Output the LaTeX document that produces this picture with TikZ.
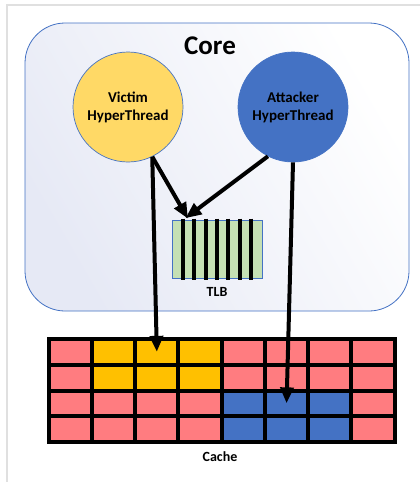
\documentclass[tikz,border=0pt]{standalone}
\usepackage{fontspec}
\setmainfont{Carlito}
\usetikzlibrary{arrows.meta}
\definecolor{frame}{HTML}{E0E0E0}
\definecolor{bord}{HTML}{4472C4}
\definecolor{coreA}{HTML}{E6E9F5}
\definecolor{vict}{HTML}{FFD966}
\definecolor{att}{HTML}{4472C4}
\definecolor{tlbg}{HTML}{C5E0B4}
\definecolor{pinkc}{HTML}{FF7C80}
\definecolor{yelc}{HTML}{FFC000}
\definecolor{bluec}{HTML}{4472C4}
\tikzset{
  thread/.style={circle, draw=bord, line width=0.7pt, minimum size=110pt, inner sep=0pt,
    align=center, font=\fontsize{15}{18}\selectfont\bfseries},
  lbl/.style={font=\fontsize{14}{16}\selectfont\bfseries},
  cell/.style={draw=black, line width=4pt, minimum width=43.25pt, minimum height=25.75pt,
    inner sep=0pt, anchor=north west},
  bar/.style={line width=4pt, black},
  arr/.style={line width=4pt, -{Triangle[length=16pt,width=13pt]}, shorten >=-2pt}
}
\begin{document}
\begin{tikzpicture}[x=1pt,y=-1pt]
\useasboundingbox (0,0) rectangle (420,482);
\fill[white] (0,0) rectangle (420,482);
\draw[frame, line width=2pt] (420,5) -- (7,5) -- (7,482);
% core
\shade[left color=coreA, right color=white, shading angle=120, rounded corners=40pt]
  (25,23) rectangle (409,311);
\draw[bord, line width=0.8pt, rounded corners=40pt] (25,23) rectangle (409,311);
\node[font=\fontsize{27}{30}\selectfont\bfseries] (core) at (210,46) {Core};
% threads
\node[thread, fill=vict] (victim) at (128,107) {Victim\\HyperThread};
\node[thread, fill=att] (attacker) at (293,107) {Attacker\\HyperThread};
% TLB
\node[draw=bord, line width=0.7pt, fill=tlbg, minimum width=90pt, minimum height=58pt,
  inner sep=0pt, anchor=north west] (tlb) at (172,220) {};
\foreach \i in {0,...,6} {
  \draw[bar] (182.7+\i*11.43,218.5) -- (182.7+\i*11.43,279.5);
}
\node[lbl] (tlblabel) at (217,292) {TLB};
% cache
\foreach \r in {1,...,4} {
  \foreach \c in {1,...,8} {
    \pgfmathsetmacro{\cx}{46.7+(\c-1)*43.25}
    \pgfmathsetmacro{\cy}{337+(\r-1)*25.75}
    \def\col{pinkc}
    \ifnum\r<3 \ifnum\c>1 \ifnum\c<5 \def\col{yelc}\fi\fi\fi
    \ifnum\r>2 \ifnum\c>4 \ifnum\c<8 \def\col{bluec}\fi\fi\fi
    \node[cell, fill=\col] (c-\r-\c) at (\cx,\cy) {};
  }
}
\node[lbl] (cache) at (220,457) {Cache};
% arrows
\coordinate (tlbhit) at (187,217);
\draw[arr] (victim.-64) -- (tlbhit);
\draw[arr] (attacker.-117) -- (tlbhit);
\draw[arr, shorten >=0pt] (victim.-64) -- (c-1-3.center);
\draw[arr, shorten >=0pt] (attacker.-90) -- (c-3-6.center);
\end{tikzpicture}
\end{document}
